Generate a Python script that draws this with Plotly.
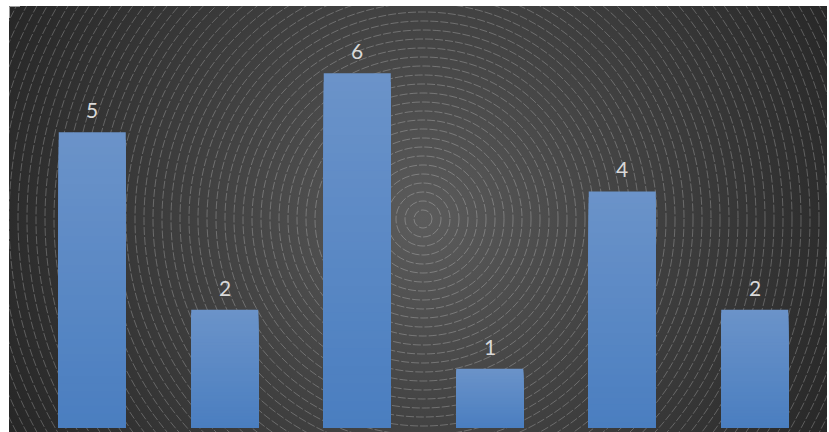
import base64
import numpy as np
import plotly.graph_objects as go

# ---- data ----
categories = ["Item 1", "Item 2", "Item 3", "Item 4", "Item 5", "Item 6"]
values = [5, 2, 6, 1, 4, 2]

W, H = 829, 432
ML, MR, MT, MB = 26, 8, 14, 4
PW, PH = W - ML - MR, H - MT - MB

# ---- background: dark radial gradient with fine concentric rings ----
cx, cy = 423, 219
rings = "".join(
    f'<circle cx="{cx}" cy="{cy}" r="{r}" fill="none" stroke="rgba(255,255,255,0.27)" '
    f'stroke-width="0.9" stroke-dasharray="8 2"/>'
    for r in range(9, 560, 9)
)
svg = f'''<svg xmlns="http://www.w3.org/2000/svg" width="{W}" height="{H}" viewBox="0 0 {W} {H}" preserveAspectRatio="none">
<defs>
<radialGradient id="g" gradientUnits="userSpaceOnUse" cx="{cx}" cy="{cy}" r="470">
<stop offset="0" stop-color="#5c5c5c"/>
<stop offset="0.35" stop-color="#474747"/>
<stop offset="1" stop-color="#262626"/>
</radialGradient>
<clipPath id="c"><rect x="9" y="6" width="{W - 2 - 9}" height="{H - 6}"/></clipPath>
</defs>
<rect x="0" y="0" width="{W}" height="{H}" fill="#ffffff"/>
<rect x="9" y="6" width="{W - 2 - 9}" height="{H - 6}" fill="url(#g)"/>
<g clip-path="url(#c)">{rings}</g>
<path d="M9.5 18 V6.5 H20" stroke="#9a9a9a" stroke-width="1" fill="none"/>
</svg>'''
bg_src = "data:image/svg+xml;base64," + base64.b64encode(svg.encode()).decode()

fig = go.Figure()

# ---- bars: vertical gradient from overlaid, progressively shorter bars ----
n_steps = 40
top_rgb = np.array([0x6b, 0x93, 0xc9])
bot_rgb = np.array([0x4a, 0x7e, 0xc0])
vals = np.array(values, dtype=float)
for i in range(n_steps):
    frac = (n_steps - i) / n_steps
    t = (n_steps - i - 0.5) / n_steps
    r, g, b = (bot_rgb + (top_rgb - bot_rgb) * t).round().astype(int)
    fig.add_trace(go.Bar(
        x=categories,
        y=vals * frac,
        marker=dict(color=f"rgb({r},{g},{b})", line=dict(width=0)),
        hoverinfo="skip",
        showlegend=False,
    ))

# ---- value labels ----
for c, v in zip(categories, values):
    fig.add_annotation(
        x=c, y=v, text=str(v), showarrow=False,
        yanchor="bottom", yshift=8,
        font=dict(family="Lato", size=21, color="#d9d9d9"),
    )

fig.update_layout(
    width=W, height=H,
    margin=dict(l=ML, r=MR, t=MT, b=MB, pad=0),
    paper_bgcolor="#ffffff",
    plot_bgcolor="rgba(0,0,0,0)",
    barmode="overlay",
    bargap=0.494,
    showlegend=False,
    xaxis=dict(visible=False, range=[-0.5, 5.5]),
    yaxis=dict(visible=False, range=[0, 7]),
    images=[dict(
        source=bg_src, xref="paper", yref="paper",
        x=-ML / PW, y=(PH + MT) / PH,
        sizex=W / PW, sizey=H / PH,
        xanchor="left", yanchor="top",
        sizing="stretch", layer="below",
    )],
)

fig.write_html("out.html")
